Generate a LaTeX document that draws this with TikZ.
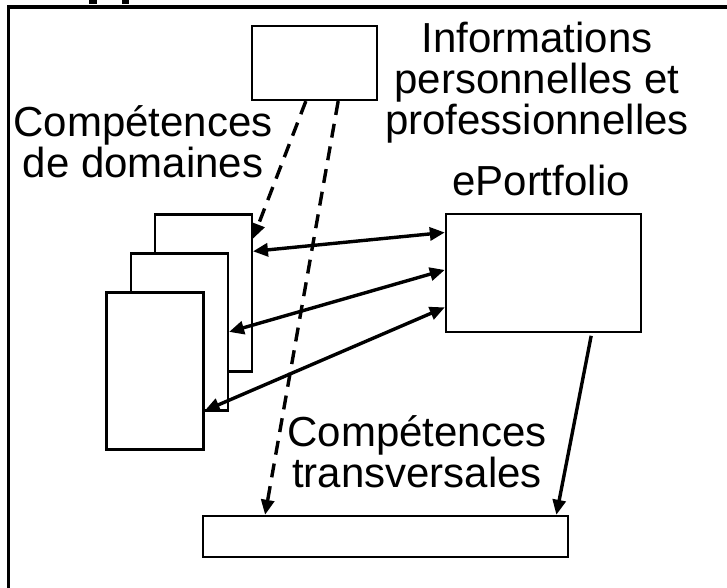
\documentclass[tikz,border=0pt]{standalone}
\usepackage{fontspec}
\setmainfont{Liberation Sans}
\usetikzlibrary{arrows.meta,calc}
\begin{document}
\begin{tikzpicture}[x=1pt,y=-1pt,
  box/.style={draw=black,line width=2.3pt,fill=white,inner sep=0pt},
  pagebox/.style={box,minimum width=97pt,minimum height=157pt},
  lbl/.style={font=\fontsize{42}{41}\selectfont,align=center,inner sep=0pt},
  tip/.style={-{Triangle[length=15pt,width=13pt]}},
  link/.style={line width=3.4pt,tip},
  both/.style={line width=3.4pt,{Triangle[length=15pt,width=13pt]}-{Triangle[length=15pt,width=13pt]}},
  dashlink/.style={link,dash pattern=on 14pt off 9pt}]
\useasboundingbox (0,0) rectangle (727,588);

% outer frame (cut at the right and bottom)
\draw[line width=3.5pt] (8.5,588) -- (8.5,7) -- (727,7);
% descenders of the heading above the frame
\fill (89.3,0) rectangle (96.7,4.3);
\fill (121.7,0) rectangle (129,4.3);

% boxes
\node[box,minimum width=125pt,minimum height=74pt] (info) at (314.5,63) {};
\node[box,minimum width=194.7pt,minimum height=117.7pt] (port) at (543.3,272.8) {};
\node[pagebox] (pageA) at (203.3,292.9) {};
\node[pagebox] (pageB) at (179.4,331.9) {};
\node[pagebox] (pageC) at (155,370.9) {};
\node[box,minimum width=365pt,minimum height=40.7pt] (trans) at (385.2,536.3) {};

% labels (base anchor = baseline of the last line)
\node[lbl,anchor=base] (infoL) at (537,135) {Informations\\personnelles et\\professionnelles};
\node[lbl,anchor=base] (domL) at (143,178) {Compétences\\de domaines};
\node[lbl,anchor=base] (portL) at (541,195) {ePortfolio};
\node[lbl,anchor=base] (transL) at (417,487) {Compétences\\transversales};

% connectors
\draw[dashlink] ($(info.south west)!0.432!(info.south east)$) -- ($(pageA.north east)!0.16!(pageA.south east)$);
\draw[dashlink] ($(info.south west)!0.686!(info.south east)$) -- ($(trans.north west)!0.173!(trans.north east)$);
\draw[both] ($(pageA.north east)!0.239!(pageA.south east)$) -- ($(port.north west)!0.164!(port.south west)$);
\draw[both] (pageB.east) -- ($(port.north west)!0.476!(port.south west)$);
\draw[both] ($(pageC.north east)!0.75!(pageC.south east)$) -- ($(port.north west)!0.788!(port.south west)$);
\coordinate (portOut) at ($(port.south west)!0.743!(port.south east)+(0,3)$);
\draw[link] (portOut) -- ($(trans.north west)!0.966!(trans.north east)$);
\end{tikzpicture}
\end{document}
